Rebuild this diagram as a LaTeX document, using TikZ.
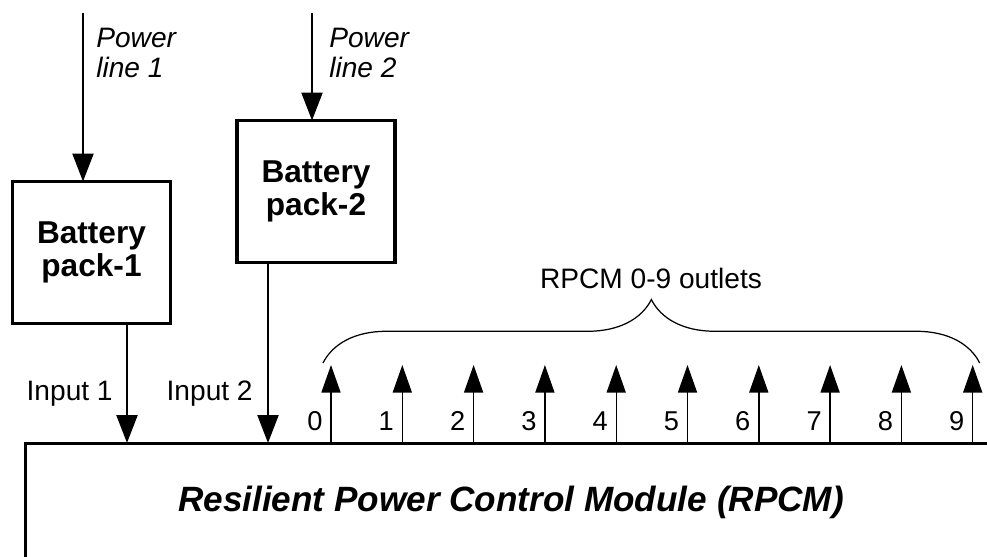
\documentclass[tikz,border=0pt]{standalone}
\usepackage{fontspec}
\setmainfont{Liberation Sans}
\usetikzlibrary{arrows.meta, positioning, decorations.pathreplacing}

\begin{document}
\begin{tikzpicture}[
	x=0.02cm, y=-0.02cm,
	box/.style={
		rectangle,
		draw=black,
		line width=2pt,
		outer sep=0pt,
		minimum width=3.16cm,
		minimum height=2.84cm,
		align=center,
		font=\fontsize{18pt}{18.5pt}\selectfont\bfseries,
	},
	module/.style={
		rectangle,
		draw=black,
		line width=1.7pt,
		outer sep=0pt,
		minimum width=19.44cm,
		minimum height=2.36cm,
		font=\fontsize{20pt}{24pt}\selectfont\bfseries\itshape,
	},
	feed/.style={-{Triangle[length=0.56cm, width=0.42cm]}, line width=1.3pt},
	outlet/.style={-{Triangle[length=0.55cm, width=0.38cm]}, line width=0.8pt},
	lbl/.style={font=\fontsize{16pt}{17pt}\selectfont, inner sep=0pt},
	num/.style={font=\fontsize{15.5pt}{16pt}\selectfont, inner sep=0pt, anchor=base},
	]
	\useasboundingbox (0,0) rectangle (987,556);
	\clip (0,0) rectangle (987,556);

	\node[box] (b1) at (91.5,252.5) {Battery\\pack-1};
	\node[box] (b2) at (316,191.5) {Battery\\pack-2};
	\node[module] (rpcm) at (511,502) {Resilient Power Control Module (RPCM)};

	% power lines
	\coordinate (pl1) at (83,13);
	\coordinate (pl2) at (312,13);
	\draw[feed] (pl1) -- (pl1 |- b1.north);
	\draw[feed] (pl2) -- (pl2 |- b2.north);
	\node[lbl, align=left, anchor=north west, font=\fontsize{16pt}{17pt}\selectfont\itshape] (pl1lab) at (96,28) {Power\\line 1};
	\node[lbl, align=left, anchor=north west, font=\fontsize{16pt}{17pt}\selectfont\itshape] (pl2lab) at (329,28) {Power\\line 2};

	% inputs
	\coordinate (in1) at (127,443);
	\coordinate (in2) at (268,443);
	\draw[feed] (in1 |- b1.south) -- (in1);
	\draw[feed] (in2 |- b2.south) -- (in2);
	\node[lbl, anchor=east] (in1lab) at (113,394) {Input 1};
	\node[lbl, anchor=east] (in2lab) at (253,394) {Input 2};

	% outlets
	\foreach \i in {0,...,9}{
		\coordinate (o\i) at ({331+71.3*\i},443);
		\draw[outlet] (o\i) -- ++(0,-78) coordinate (t\i);
		\node[num] (n\i) at ([xshift=-0.32cm, yshift=0.26cm]o\i) {\i};
	}

	\draw[decorate, decoration={brace, amplitude=1.27cm}, line width=0.7pt]
	([xshift=-0.16cm, yshift=0.04cm]t0) -- ([xshift=0.14cm, yshift=0.04cm]t9);
	\node[lbl] (outlab) at (651,278) {RPCM 0-9 outlets};
\end{tikzpicture}
\end{document}
